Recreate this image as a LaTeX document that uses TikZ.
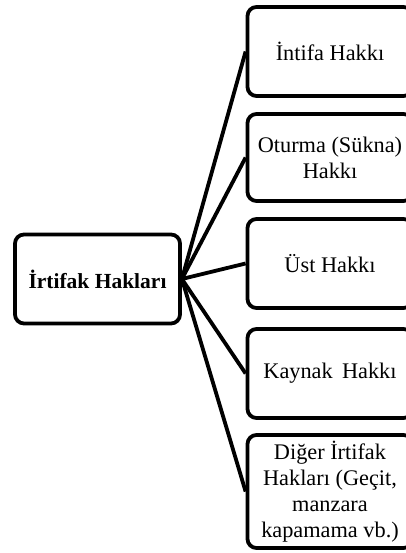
\documentclass[tikz,border=0pt]{standalone}
\usepackage{fontspec}
\setmainfont{Liberation Serif}
\begin{document}
\begin{tikzpicture}[x=1pt, y=1pt, line width=3.8pt,
  kutu/.style={draw, rounded corners=9pt, align=center, minimum width=165pt,
    minimum height=89pt, font=\fontsize{22.3}{26}\selectfont}]
 \clip (0,0) rectangle (406,553);
 \node[kutu, font=\fontsize{21.5}{26}\selectfont\bfseries] (irtifak) at (97.5,274) {İrtifak Hakları};
 \node[kutu] (intifa) at (330,501.5) {İntifa Hakkı};
 \node[kutu, minimum height=87pt] (oturma) at (330,395.5) {Oturma (Sükna)\\Hakkı};
 \node[kutu] (ust) at (330,289.5) {Üst Hakkı};
 \node[kutu] (kaynak) at (330,179.5) {Kaynak\, Hakkı};
 \node[kutu, minimum height=113pt] (diger) at (330,61.5) {Diğer İrtifak\\Hakları (Geçit,\\manzara\\kapamama vb.)};
 \foreach \n in {intifa, oturma, ust, kaynak, diger}
  \draw (irtifak.east) -- (\n.west);
\end{tikzpicture}
\end{document}
